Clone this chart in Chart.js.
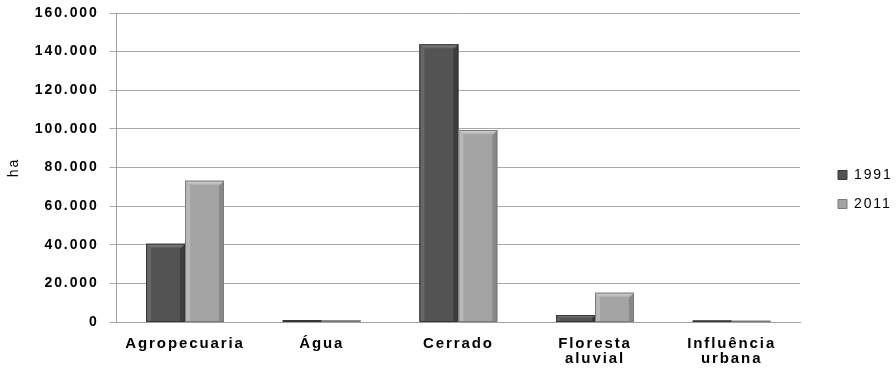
<!DOCTYPE html>
<html>
<head>
<meta charset="utf-8">
<script src="https://cdn.jsdelivr.net/npm/chart.js@4.4.1/dist/chart.umd.min.js"></script>
<style>
  html, body { margin: 0; padding: 0; background: #ffffff; }
  #wrap { width: 896px; height: 369px; }
</style>
</head>
<body>
<div id="wrap"><canvas id="c" width="896" height="369"></canvas></div>
<script>
// Land cover area (hectares) by class, 1991 vs 2011
const CATEGORIES = ['Agropecuaria', 'Água', 'Cerrado', ['Floresta', 'aluvial'], ['Influência', 'urbana']];
const SERIES_NAMES = ['1991', '2011'];
const VALUES_1991 = [40500, 1000, 143800, 3600, 800];
const VALUES_2011 = [73200, 900, 99400, 15200, 700];
const Y_TICKS = [0, 20000, 40000, 60000, 80000, 100000, 120000, 140000, 160000];
const Y_TITLE = 'ha';

const FACE = ['#535353', '#a4a4a4'];
const TOP = ['#8a8a8a', '#dedede'];
const LEFT = ['#676767', '#b8b8b8'];
const RIGHT = ['#3c3c3c', '#888888'];
const EDGE = ['#363636', '#7a7a7a'];

const TRACKING = '1.9px';

function fmt(v) {
  return String(v).replace(/\B(?=(\d{3})+(?!\d))/g, '.');
}

// wide text tracking for all labels
const spacing = {
  id: 'spacing',
  beforeUpdate(chart) { chart.ctx.letterSpacing = TRACKING; },
  beforeLayout(chart) { chart.ctx.letterSpacing = TRACKING; },
  beforeDraw(chart) { chart.ctx.letterSpacing = TRACKING; }
};

// bevelled bar faces drawn on top of each bar element
const bevel = {
  id: 'bevel',
  afterDatasetsDraw(chart) {
    const ctx = chart.ctx;
    chart.data.datasets.forEach((ds, di) => {
      const meta = chart.getDatasetMeta(di);
      meta.data.forEach(bar => {
        const p = bar.getProps(['x', 'y', 'base', 'width'], true);
        const l = p.x - p.width / 2, r = p.x + p.width / 2;
        const t = Math.min(p.y, p.base), b = Math.max(p.y, p.base);
        const h = b - t;
        if (h <= 0) return;
        const bv = Math.min(5, h / 2, p.width / 4);
        ctx.save();
        ctx.fillStyle = LEFT[di];
        ctx.beginPath();
        ctx.moveTo(l, t); ctx.lineTo(l + bv, t + bv); ctx.lineTo(l + bv, b); ctx.lineTo(l, b);
        ctx.closePath(); ctx.fill();
        ctx.fillStyle = RIGHT[di];
        ctx.beginPath();
        ctx.moveTo(r, t); ctx.lineTo(r - bv, t + bv); ctx.lineTo(r - bv, b); ctx.lineTo(r, b);
        ctx.closePath(); ctx.fill();
        const g = ctx.createLinearGradient(0, t, 0, t + bv);
        g.addColorStop(0, TOP[di]);
        g.addColorStop(1, FACE[di]);
        ctx.fillStyle = g;
        ctx.beginPath();
        ctx.moveTo(l, t); ctx.lineTo(r, t); ctx.lineTo(r - bv, t + bv); ctx.lineTo(l + bv, t + bv);
        ctx.closePath(); ctx.fill();
        ctx.strokeStyle = EDGE[di];
        ctx.lineWidth = 1;
        ctx.strokeRect(l + 0.5, t + 0.5, p.width - 1, h - 0.5);
        ctx.restore();
      });
    });
  }
};

new Chart(document.getElementById('c'), {
  type: 'bar',
  data: {
    labels: CATEGORIES,
    datasets: [
      { label: SERIES_NAMES[0], data: VALUES_1991, backgroundColor: FACE[0], borderWidth: 0 },
      { label: SERIES_NAMES[1], data: VALUES_2011, backgroundColor: FACE[1], borderWidth: 0 }
    ]
  },
  options: {
    responsive: false,
    animation: false,
    devicePixelRatio: 1,
    layout: { padding: { top: 13, right: 0, left: 2, bottom: 3 } },
    datasets: { bar: { categoryPercentage: 0.57, barPercentage: 1.0 } },
    plugins: {
      tooltip: { enabled: false },
      legend: {
        position: 'right',
        maxWidth: 73,
        labels: {
          boxWidth: 9, boxHeight: 9, padding: 15,
          color: '#000000',
          font: { family: 'Liberation Sans', size: 14 },
          generateLabels(chart) {
            return chart.data.datasets.map((ds, i) => ({
              text: ds.label, fillStyle: FACE[i], strokeStyle: EDGE[i], lineWidth: 1,
              datasetIndex: i, fontColor: '#000000'
            }));
          }
        }
      }
    },
    scales: {
      x: {
        grid: { display: false, drawTicks: false },
        border: { display: true, color: '#a0a0a0' },
        ticks: {
          color: '#000000', padding: 14, maxRotation: 0, autoSkip: false,
          font: { family: 'Liberation Sans', size: 15, weight: 'bold', lineHeight: 1.0 }
        },
        afterFit(axis) { axis.height = 44; }
      },
      y: {
        min: 0, max: 160000,
        afterBuildTicks(axis) { axis.ticks = Y_TICKS.map(v => ({ value: v })); },
        grid: { color: '#a8a8a8', lineWidth: 1, tickLength: 7 },
        border: { display: true, color: '#a0a0a0' },
        ticks: {
          color: '#000000', padding: 11,
          font: { family: 'Liberation Sans', size: 14, weight: 'bold' },
          callback: v => fmt(v)
        },
        title: {
          display: true, text: Y_TITLE, color: '#000000', padding: { top: 4, bottom: 1 },
          font: { family: 'Liberation Sans', size: 14 }
        },
        afterFit(axis) { axis.paddingTop = 0; }
      },
      // empty spacer axis: gap between plot area and legend
      gap: {
        type: 'linear', position: 'right', display: true,
        grid: { display: false }, border: { display: false },
        ticks: { display: false },
        afterFit(axis) { axis.width = 23; }
      }
    }
  },
  plugins: [spacing, bevel]
});
</script>
</body>
</html>
